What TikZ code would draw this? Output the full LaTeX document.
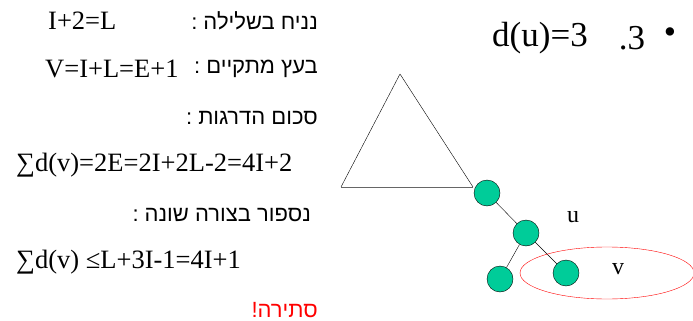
\documentclass[tikz,border=0pt]{standalone}
\usepackage{fontspec}
\setmainfont{Liberation Serif}
\newfontfamily\hebfont[Script=Hebrew]{Liberation Sans}
\TeXXeTstate=1
\definecolor{vgreen}{RGB}{0,204,153}
\tikzset{gnode/.style={
    circle,
    draw,
    fill=vgreen,
    minimum size=26pt,
    inner sep=0pt
  },
  ltext/.style={inner sep=0pt,anchor=west,font=\fontsize{26.5}{30}\selectfont},
  htext/.style={inner sep=0pt,anchor=east,font=\hebfont\fontsize{22}{26}\selectfont},
  ttext/.style={inner sep=0pt,font=\fontsize{35}{40}\selectfont},
  lbl/.style={inner sep=0pt,font=\fontsize{24}{28}\selectfont},
}
\begin{document}
\begin{tikzpicture}[x=1pt,y=-1pt]
  \path[use as bounding box] (0,0) rectangle (693,321);
  % proof text
  \node[htext] (assume) at (318,21) {\beginR נניח בשלילה :\endR};
  \node[ltext] (assumeeq) at (48,21) {I+2=L};
  \node[htext] (intree) at (318,69) {\beginR בעץ מתקיים :\endR};
  \node[ltext] (intreeeq) at (45,69) {V=I+L=E+1};
  \node[htext] (degsum) at (318,118) {\beginR סכום הדרגות :\endR};
  \node[ltext] (degsumeq) at (16,165) {∑d(v)=2E=2I+2L-2=4I+2};
  \node[htext] (recount) at (311,215) {\beginR נספור בצורה שונה :\endR};
  \node[ltext] (recounteq) at (16,262) {∑d(v) ≤L+3I-1=4I+1};
  \node[htext,text=red] (contra) at (318,310) {\beginR סתירה!\endR};
  % case title
  \node[ttext] (bullet) at (670,36) {•};
  \node[ttext] (casenum) at (632,38) {.3};
  \node[ttext] (casedeg) at (540,38) {d(u)=3};
  % subtree and nodes
  \draw (400,74) -- (341,187);
  \draw (400,74) -- (473,187);
  \draw[black!60] (341,187) -- (473,187);
  \node[gnode] (top) at (487,193) {};
  \node[gnode] (u) at (526,233) {};
  \node[gnode] (left) at (500,279) {};
  \node[gnode] (v) at (566,273) {};
  \draw (top) -- (u);
  \draw (u) -- (left);
  \draw (u) -- (v);
  \node[lbl] (ulabel) at (573,217) {u};
  \node[lbl] (vlabel) at (618,269) {v};
  \draw[red] (607,273) ellipse [x radius=87, y radius=26];
\end{tikzpicture}
\end{document}
